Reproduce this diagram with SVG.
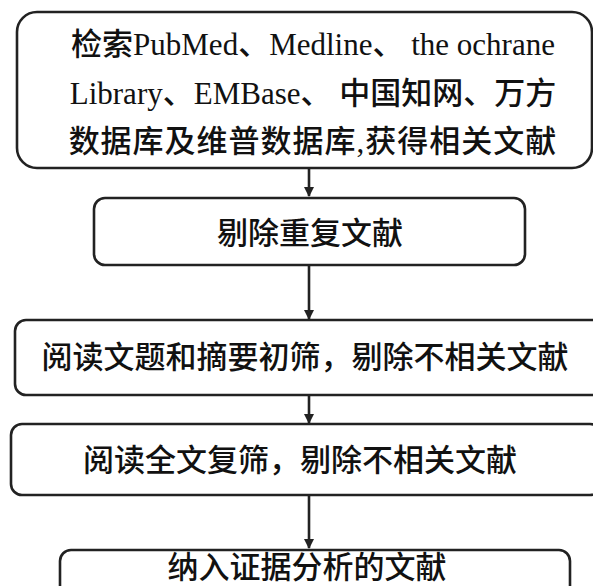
<svg xmlns="http://www.w3.org/2000/svg" width="593" height="586" viewBox="0 0 593 586">
<style>
.box{fill:#fff;stroke:#222;stroke-width:2.6}
.t{font-family:"Liberation Serif","Noto Sans CJK SC",serif;font-size:31px;fill:#111;text-anchor:middle}
.k{font-weight:500}
.c{stroke:#222;stroke-width:2.6;fill:none}
</style>
<defs>
<marker id="ah" markerWidth="10" markerHeight="10" refX="9" refY="5" orient="auto" markerUnits="userSpaceOnUse">
<path d="M0,0 L10,5 L0,10 z" fill="#222"/>
</marker>
</defs>
<rect width="593" height="586" fill="#fff"/>
<g id="connectors">
<line class="c" x1="309" y1="168" x2="309" y2="196" marker-end="url(#ah)"/>
<line class="c" x1="309" y1="265" x2="309" y2="319" marker-end="url(#ah)"/>
<line class="c" x1="309" y1="395" x2="309" y2="423" marker-end="url(#ah)"/>
<line class="c" x1="309" y1="495" x2="309" y2="548" marker-end="url(#ah)"/>
</g>
<g id="n1">
<rect class="box" x="17" y="12" width="575" height="156" rx="20"/>
<text class="t" x="313" y="55"><tspan class="k">检索</tspan>PubMed<tspan class="k">、</tspan>Medline<tspan class="k">、</tspan> the ochrane</text>
<text class="t" x="313" y="104">Library<tspan class="k">、</tspan>EMBase<tspan class="k">、 中国知网、万方</tspan></text>
<text class="t k" x="313" y="152" letter-spacing="1">数据库及维普数据库,获得相关文献</text>
</g>
<g id="n2">
<rect class="box" x="94" y="198" width="431" height="67" rx="11"/>
<text class="t k" x="310" y="244">剔除重复文献</text>
</g>
<g id="n3">
<rect class="box" x="15" y="320" width="590" height="75" rx="11"/>
<text class="t k" x="305" y="368">阅读文题和摘要初筛，剔除不相关文献</text>
</g>
<g id="n4">
<rect class="box" x="11" y="424" width="590" height="71" rx="11"/>
<text class="t k" x="300" y="471">阅读全文复筛，剔除不相关文献</text>
</g>
<g id="n5">
<rect class="box" x="60" y="550" width="510" height="50" rx="11"/>
<text class="t k" x="307" y="578">纳入证据分析的文献</text>
</g>
</svg>
